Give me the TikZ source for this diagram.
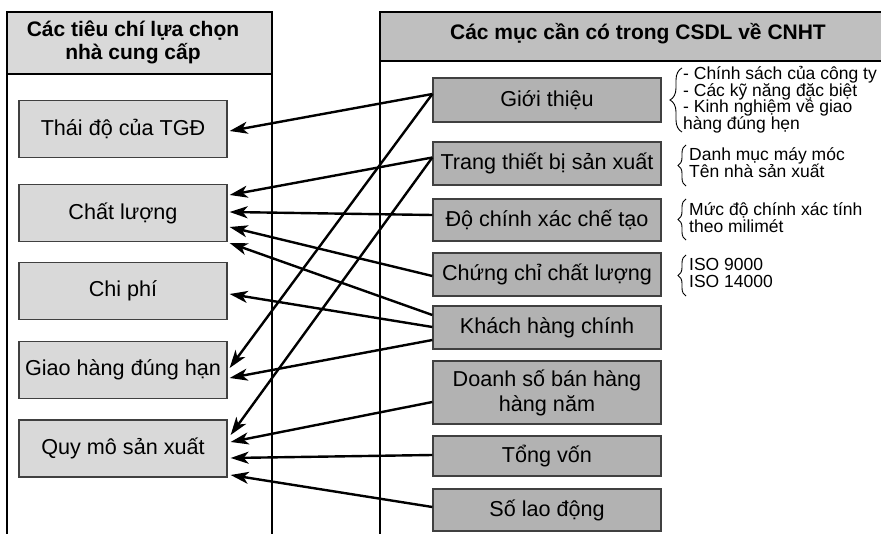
\documentclass[tikz,border=0pt]{standalone}
\usepackage{fontspec}
\setmainfont{Liberation Sans}
\usetikzlibrary{arrows.meta,decorations.pathreplacing}
\definecolor{critfill}{gray}{0.85}
\definecolor{itemfill}{gray}{0.70}
\definecolor{headfill}{gray}{0.75}
\definecolor{boxline}{gray}{0.25}
% left-aligned lines set at a fixed baseline distance; the baseline of the
% whole block is that of its first line
\newcommand\notestack[1]{\vtop{\lineskiplimit=-100pt\lineskip=0pt
  \halign{##\hfil\cr#1\crcr}}}
\begin{document}
\begin{tikzpicture}[x=1pt,y=-1pt,
  panel/.style={draw=black,line width=1.5pt},
  crit/.style={draw=boxline,line width=1.3pt,fill=critfill,minimum width=208pt,
    minimum height=57pt,inner sep=0pt,align=center,font=\fontsize{21.6}{25}\selectfont},
  item/.style={draw=boxline,line width=1.3pt,fill=itemfill,minimum width=228pt,
    inner sep=0pt,align=center,font=\fontsize{21.6}{25}\selectfont},
  headtext/.style={inner sep=0pt,anchor=base,font=\fontsize{21}{23}\selectfont\bfseries},
  link/.style={line width=2.4pt,-{Stealth[length=18pt,width=12pt,inset=5pt]}},
  note/.style={inner sep=0pt,anchor=base west,font=\fontsize{17.5}{16.5}\selectfont},
  notebrace/.style={decorate,decoration={brace,amplitude=#1},line width=0.9pt},
  notebrace/.default=8pt]
\clip (0,0) rectangle (881,534);

% criteria panel (left)
\fill[critfill] (7,12) rectangle (272,74);
\draw[panel] (7,540) -- (7,12) -- (272,12) -- (272,540);
\draw[panel] (7,74) -- (272,74);
\node[headtext] (lh1) at (133,37) {Các tiêu chí lựa chọn};
\node[headtext] (lh2) at (133,60) {nhà cung cấp};

% database panel (right)
\fill[headfill] (380,12) rectangle (900,61);
\draw[panel] (380,540) -- (380,12) -- (900,12);
\draw[panel] (380,61) -- (900,61);
\node[headtext] (rh) at (638,39.5) {Các mục cần có trong CSDL về CNHT};

% criteria boxes
\node[crit] (td) at (123,129) {Thái độ của TGĐ};
\node[crit] (cl) at (123,213) {Chất lượng};
\node[crit] (cp) at (123,291) {Chi phí};
\node[crit] (gh) at (123,370) {Giao hàng đúng hạn};
\node[crit] (qm) at (123,448.5) {Quy mô sản xuất};

% database items
\node[item,minimum height=44pt] (gt) at (547,100) {Giới thiệu};
\node[item,minimum height=43pt] (tb) at (547,163.5) {Trang thiết bị sản xuất};
\node[item,minimum height=42pt] (dc) at (547,220) {Độ chính xác chế tạo};
\node[item,minimum height=43pt] (cc) at (547,274.5) {Chứng chỉ chất lượng};
\node[item,minimum height=43pt] (kh) at (547,327.5) {Khách hàng chính};
\node[item,minimum height=63pt] (ds) at (547,392.5) {Doanh số bán hàng\\hàng năm};
\node[item,minimum height=40pt] (tv) at (547,456) {Tổng vốn};
\node[item,minimum height=42pt] (ld) at (547,510) {Số lao động};

% notes beside the items
\draw[notebrace=12pt] (682,132) -- (682,68);
\node[note] (n1) at (683,80) {\notestack{- Chính sách của công ty\cr
  - Các kỹ năng đặc biệt\cr - Kinh nghiệm về giao\cr hàng đúng hẹn}};

\draw[notebrace] (686,186) -- (686,145);
\node[note] (n2) at (689,161) {\notestack{Danh mục máy móc\cr Tên nhà sản xuất}};

\draw[notebrace] (686,240) -- (686,199);
\node[note] (n3) at (689,216) {\notestack{Mức độ chính xác tính\cr theo milimét}};

\draw[notebrace] (686,296) -- (686,255);
\node[note] (n4) at (689,271) {\notestack{ISO 9000\cr ISO 14000}};

% links from items to criteria
\draw[link] ([yshift=6pt]gt.west) -- ([xshift=2pt,yshift=-2pt]td.east);
\draw[link] ([yshift=6pt]gt.west) -- ([xshift=2pt,yshift=2pt]gh.east);
\draw[link] ([yshift=6pt]tb.west) -- ([xshift=2pt,yshift=18pt]cl.east);
\draw[link] ([yshift=6pt]tb.west) -- ([xshift=3pt,yshift=13.5pt]qm.east);
\draw[link] ([yshift=5pt]dc.west) -- ([xshift=2pt,yshift=1pt]cl.east);
\draw[link] ([yshift=-1.5pt]cc.west) -- ([xshift=2pt,yshift=-14pt]cl.east);
\draw[link] ([yshift=12.5pt]kh.west) -- ([xshift=2pt,yshift=-30pt]cl.east);
\draw[link] ([yshift=0.5pt]kh.west) -- ([xshift=2pt,yshift=-3pt]cp.east);
\draw[link] ([yshift=-12.5pt]kh.west) -- ([xshift=2pt,yshift=-8pt]gh.east);
\draw[link] ([yshift=-9.5pt]ds.west) -- ([xshift=3pt,yshift=6.5pt]qm.east);
\draw[link] ([yshift=1pt]tv.west) -- ([xshift=3pt,yshift=-9.5pt]qm.east);
\draw[link] ([yshift=3pt]ld.west) -- ([xshift=3pt,yshift=-26.5pt]qm.east);
\end{tikzpicture}
\end{document}
